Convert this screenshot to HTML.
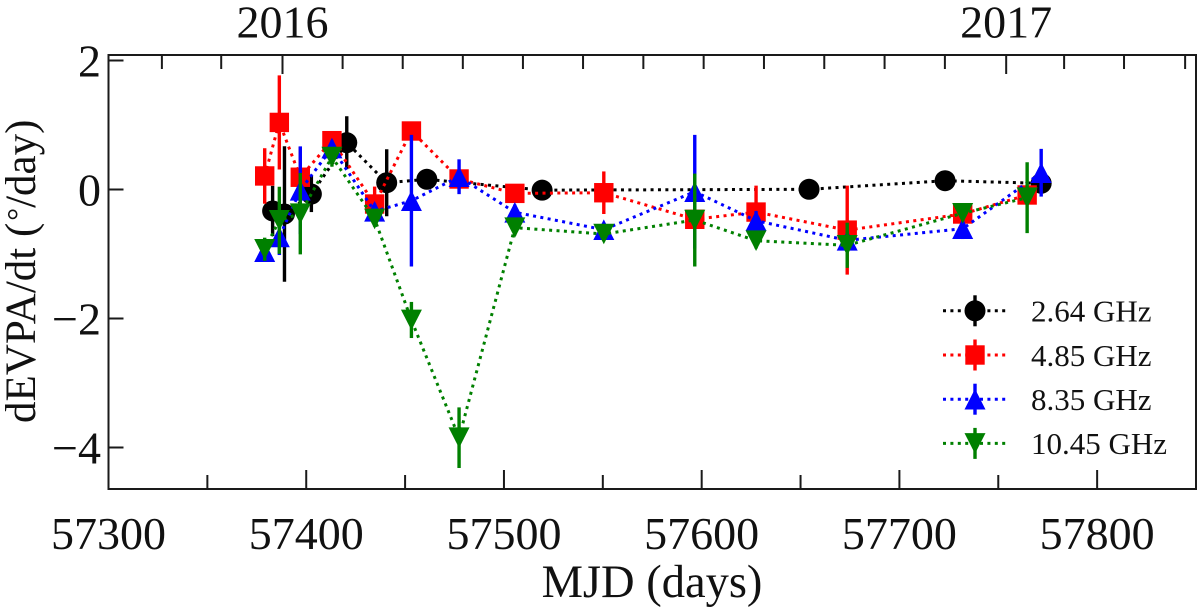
<!DOCTYPE html>
<html lang="en">
<head>
<meta charset="utf-8">
<title>dEVPA/dt vs MJD</title>
<style>
html,body{margin:0;padding:0;background:#fff;}
svg{display:block;font-family:"Liberation Serif",serif;fill:#111;}
</style>
</head>
<body>
<svg id="chart" xmlns="http://www.w3.org/2000/svg" width="1200" height="612" viewBox="0 0 1200 612">
  <rect x="0" y="0" width="1200" height="612" fill="#fff"></rect>
  <g id="series-layer"></g>
  <g id="legend-layer"></g>
  <g id="axis-layer"></g>
  <text x="652" y="597" font-size="46.5" text-anchor="middle">MJD (days)</text>
  <text transform="translate(35,423) rotate(-90)" font-size="43">dEVPA/dt (<tspan font-size="32" dy="-6" dx="2">°</tspan><tspan dy="6">/day)</tspan></text>
</svg>
<script>
// ---- data ----
const xTickMajor = [57300, 57400, 57500, 57600, 57700, 57800];
const xTickMinor = [57350, 57450, 57550, 57650, 57750, 57850];
const xTickLabels = ["57300", "57400", "57500", "57600", "57700", "57800"];
const yTicks = [2, 0, -2, -4];
const yTickLabels = ["2", "0", "\u22122", "\u22124"];
const topMonthTicks = [57327, 57357, 57418.4, 57448.8, 57479.2, 57509.6, 57540, 57570.5, 57601, 57631.5, 57662, 57692.5, 57723, 57783.3, 57813.6, 57844.5];
const topYearTicks = [57388, 57754];
const topYearLabels = ["2016", "2017"];

const names = ["2.64 GHz", "4.85 GHz", "8.35 GHz", "10.45 GHz"];

const mjdBlack = [57383, 57389, 57402.6, 57420.5, 57440.7, 57461, 57519.3, 57654.3, 57723.1, 57771.7];
const valBlack = [-0.333, -0.38, -0.07, 0.726, 0.105, 0.158, -0.01, 0.003, 0.136, 0.096];
const errBlack = [0.39, 1.05, 0.28, 0.41, 0.52, 0.1, 0.08, 0.05, 0.1, 0.1];

const mjdRed = [57379, 57386.4, 57397, 57413, 57434.6, 57453.2, 57477.3, 57505.5, 57550.5, 57596.5, 57627.5, 57673.6, 57732, 57764.6];
const valRed = [0.21, 1.04, 0.19, 0.757, -0.225, 0.907, 0.163, -0.06, -0.05, -0.462, -0.35, -0.63, -0.38, -0.085];
const errRed = [0.43, 0.73, 0.47, 0.15, 0.27, 0.12, 0.15, 0.12, 0.33, 0.15, 0.41, 0.69, 0.12, 0.15];

const mjdBlue = [57379, 57386.4, 57397, 57413, 57434.6, 57453.2, 57477.3, 57505.5, 57550.5, 57596.5, 57627.5, 57673.6, 57732, 57771.7];
const valBlue = [-0.964, -0.736, -0.012, 0.643, -0.338, -0.174, 0.198, -0.353, -0.623, -0.034, -0.484, -0.788, -0.608, 0.26];
const errBlue = [0.12, 0.28, 0.68, 0.12, 0.12, 1.02, 0.27, 0.12, 0.1, 0.88, 0.15, 0.15, 0.16, 0.37];

const mjdGreen = [57379, 57386.4, 57397, 57413, 57434.6, 57453.2, 57477.3, 57505.5, 57550.5, 57596.5, 57627.5, 57673.6, 57732, 57764.6];
const valGreen = [-0.927, -0.478, -0.375, 0.504, -0.457, -2.023, -3.848, -0.592, -0.69, -0.473, -0.794, -0.865, -0.369, -0.127];
const errGreen = [0.18, 0.52, 0.63, 0.15, 0.12, 0.28, 0.47, 0.12, 0.1, 0.72, 0.12, 0.35, 0.12, 0.55];

// ---- axis functions ----
const NS = "http://www.w3.org/2000/svg";
const L = 108.5, R = 1196, T = 55, B = 489;
function xPos(mjd) { return L + (mjd - 57300) * (R - L) / 550; }
function yPos(v) { return 189.5 - v * 64.5; }

function make(tag, attrs, parent) {
  const el = document.createElementNS(NS, tag);
  for (const k in attrs) el.setAttribute(k, attrs[k]);
  parent.appendChild(el);
  return el;
}

function drawMarker(kind, cx, cy, color, parent) {
  if (kind === "circle") return make("circle", {cx: cx, cy: cy, r: 10.5, fill: color}, parent);
  if (kind === "square") return make("rect", {x: cx - 9.7, y: cy - 9.7, width: 19.4, height: 19.4, fill: color}, parent);
  const d = kind === "up" ? 1 : -1;
  const pts = [[cx, cy - 10.3 * d], [cx - 10.5, cy + 10.3 * d], [cx + 10.5, cy + 10.3 * d]];
  return make("polygon", {points: pts.map(p => p.join(",")).join(" "), fill: color}, parent);
}

function drawSeries(slug, xs, vals, errs, color, kind) {
  const layer = document.getElementById("series-layer");
  const g = make("g", {}, layer);
  
  
  const line = make("polyline", {
    points: xs.map((m, i) => xPos(m) + "," + yPos(vals[i])).join(" "),
    fill: "none", stroke: color, "stroke-width": 3, "stroke-dasharray": "3 4.4"
  }, g);
  
  
  xs.forEach((m, i) => {
    const bar = make("line", {
      x1: xPos(m), x2: xPos(m), y1: yPos(vals[i] + errs[i]), y2: yPos(vals[i] - errs[i]),
      stroke: color, "stroke-width": 3.4
    }, g);
    
    
  });
  xs.forEach((m, i) => {
    const mark = drawMarker(kind, xPos(m), yPos(vals[i]), color, g);
    
    
  });
}

drawSeries("2-64-ghz", mjdBlack, valBlack, errBlack, "#000000", "circle");
drawSeries("4-85-ghz", mjdRed, valRed, errRed, "#ff0000", "square");
drawSeries("8-35-ghz", mjdBlue, valBlue, errBlue, "#0000ff", "up");
drawSeries("10-45-ghz", mjdGreen, valGreen, errGreen, "#008000", "down");

// ---- legend ----
(function () {
  const layer = document.getElementById("legend-layer");
  const colors = ["#000000", "#ff0000", "#0000ff", "#008000"];
  const kinds = ["circle", "square", "up", "down"];
  names.forEach((label, i) => {
    const cy = 310.8 + i * 44.2;
    const g = make("g", {}, layer);
    
    
    make("line", {x1: 943, x2: 1007, y1: cy, y2: cy, stroke: colors[i], "stroke-width": 3, "stroke-dasharray": "3 4.4"}, g);
    make("line", {x1: 975, x2: 975, y1: cy - 15.5, y2: cy + 15.5, stroke: colors[i], "stroke-width": 3.4}, g);
    drawMarker(kinds[i], 975, cy, colors[i], g);
    const t = make("text", {x: 1031, y: cy + 10.8, "font-size": 31}, g);
    t.textContent = label;
    
    
  });
})();

// ---- axes ----
(function () {
  const layer = document.getElementById("axis-layer");
  const ink = "#1a1a1a";
  const frame = make("rect", {x: L, y: T, width: R - L, height: B - T, fill: "none", stroke: ink, "stroke-width": 2}, layer);
  
  

  xTickMajor.forEach((v, i) => {
    const x = xPos(v);
    const tick = make("line", {x1: x, x2: x, y1: B, y2: B - 19, stroke: ink, "stroke-width": 2}, layer);
    
    
    const t = make("text", {x: x, y: 549, "font-size": 46, "text-anchor": "middle"}, layer);
    t.textContent = xTickLabels[i];
    
    
  });
  xTickMinor.forEach(v => {
    const x = xPos(v);
    const tick = make("line", {x1: x, x2: x, y1: B, y2: B - 14, stroke: ink, "stroke-width": 2}, layer);
    
    
  });
  yTicks.forEach((v, i) => {
    const y = yPos(v);
    const tick = make("line", {x1: L, x2: L + 15, y1: y, y2: y, stroke: ink, "stroke-width": 2}, layer);
    
    
    const t = make("text", {x: 101, y: y + 16, "font-size": 46, "text-anchor": "end"}, layer);
    t.textContent = yTickLabels[i];
    
    
  });
  topMonthTicks.forEach(v => {
    const x = xPos(v);
    const tick = make("line", {x1: x, x2: x, y1: T, y2: T + 14, stroke: ink, "stroke-width": 2}, layer);
    
    
  });
  topYearTicks.forEach((v, i) => {
    const x = xPos(v);
    const tick = make("line", {x1: x, x2: x, y1: T, y2: T + 19, stroke: ink, "stroke-width": 2}, layer);
    
    
    const t = make("text", {x: x, y: 37.5, "font-size": 46, "text-anchor": "middle"}, layer);
    t.textContent = topYearLabels[i];
    
    
  });
})();
</script>
</body>
</html>
